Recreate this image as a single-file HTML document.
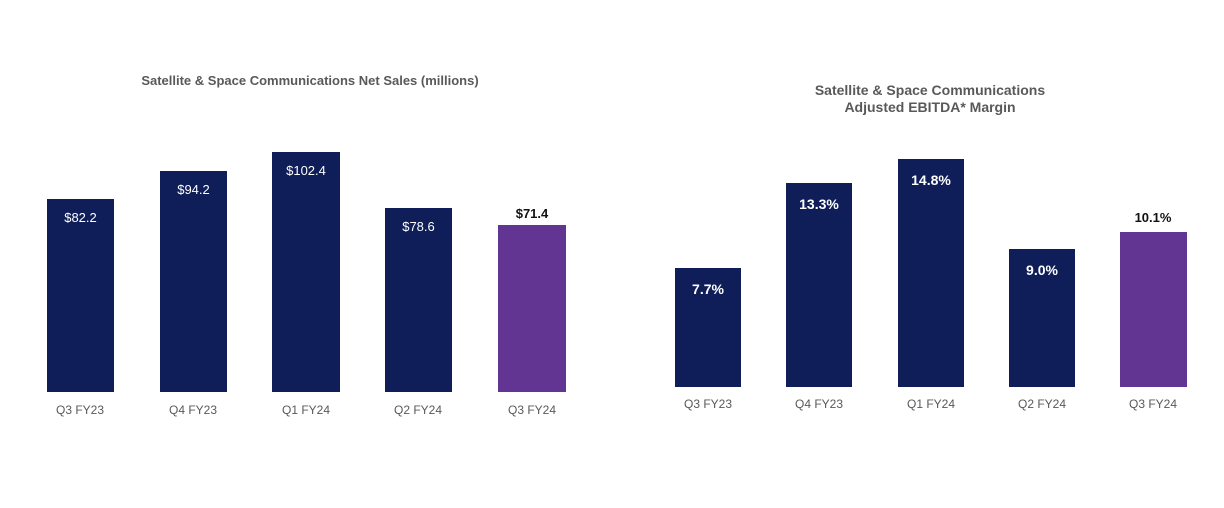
<!DOCTYPE html>
<html><head><style>
body{margin:0;width:1224px;height:508px;background:#fff;position:relative;font-family:"Liberation Sans",sans-serif;overflow:hidden}
.b{position:absolute;background:#0f1e58}
.p{background:#633592}
.v{position:absolute;color:#fff;font-size:13px;text-align:center;width:100%;top:11px}
.t{position:absolute;font-size:12px;color:#595959;text-align:center;width:120px}
.o{position:absolute;font-size:13px;font-weight:bold;color:#111;text-align:center;width:120px}
.h{position:absolute;font-size:13px;font-weight:bold;color:#595959;text-align:center}
.r .v{font-weight:bold;font-size:14px}
</style></head><body>
<div class="h" style="left:50px;width:520px;top:73px">Satellite &amp; Space Communications Net Sales (millions)</div>
<div class="h" style="left:700px;width:460px;top:82px;font-size:14px;line-height:17px">Satellite &amp; Space Communications<br>Adjusted EBITDA* Margin</div>

<div class="b" style="left:47px;width:67px;top:199px;height:193px"><div class="v">$82.2</div></div>
<div class="b" style="left:160px;width:67px;top:171px;height:221px"><div class="v">$94.2</div></div>
<div class="b" style="left:272px;width:68px;top:152px;height:240px"><div class="v">$102.4</div></div>
<div class="b" style="left:385px;width:67px;top:208px;height:184px"><div class="v">$78.6</div></div>
<div class="b p" style="left:498px;width:68px;top:225px;height:167px"></div>
<div class="o" style="left:472px;top:206px">$71.4</div>
<div class="t" style="left:20px;top:403px">Q3 FY23</div>
<div class="t" style="left:133px;top:403px">Q4 FY23</div>
<div class="t" style="left:246px;top:403px">Q1 FY24</div>
<div class="t" style="left:358px;top:403px">Q2 FY24</div>
<div class="t" style="left:472px;top:403px">Q3 FY24</div>

<div class="r">
<div class="b" style="left:675px;width:66px;top:268px;height:119px"><div class="v" style="top:13px">7.7%</div></div>
<div class="b" style="left:786px;width:66px;top:183px;height:204px"><div class="v" style="top:13px">13.3%</div></div>
<div class="b" style="left:898px;width:66px;top:159px;height:228px"><div class="v" style="top:13px">14.8%</div></div>
<div class="b" style="left:1009px;width:66px;top:249px;height:138px"><div class="v" style="top:13px">9.0%</div></div>
</div>
<div class="b p" style="left:1120px;width:67px;top:232px;height:155px"></div>
<div class="o" style="left:1093px;top:210px">10.1%</div>
<div class="t" style="left:648px;top:397px">Q3 FY23</div>
<div class="t" style="left:759px;top:397px">Q4 FY23</div>
<div class="t" style="left:871px;top:397px">Q1 FY24</div>
<div class="t" style="left:982px;top:397px">Q2 FY24</div>
<div class="t" style="left:1093px;top:397px">Q3 FY24</div>
</body></html>
